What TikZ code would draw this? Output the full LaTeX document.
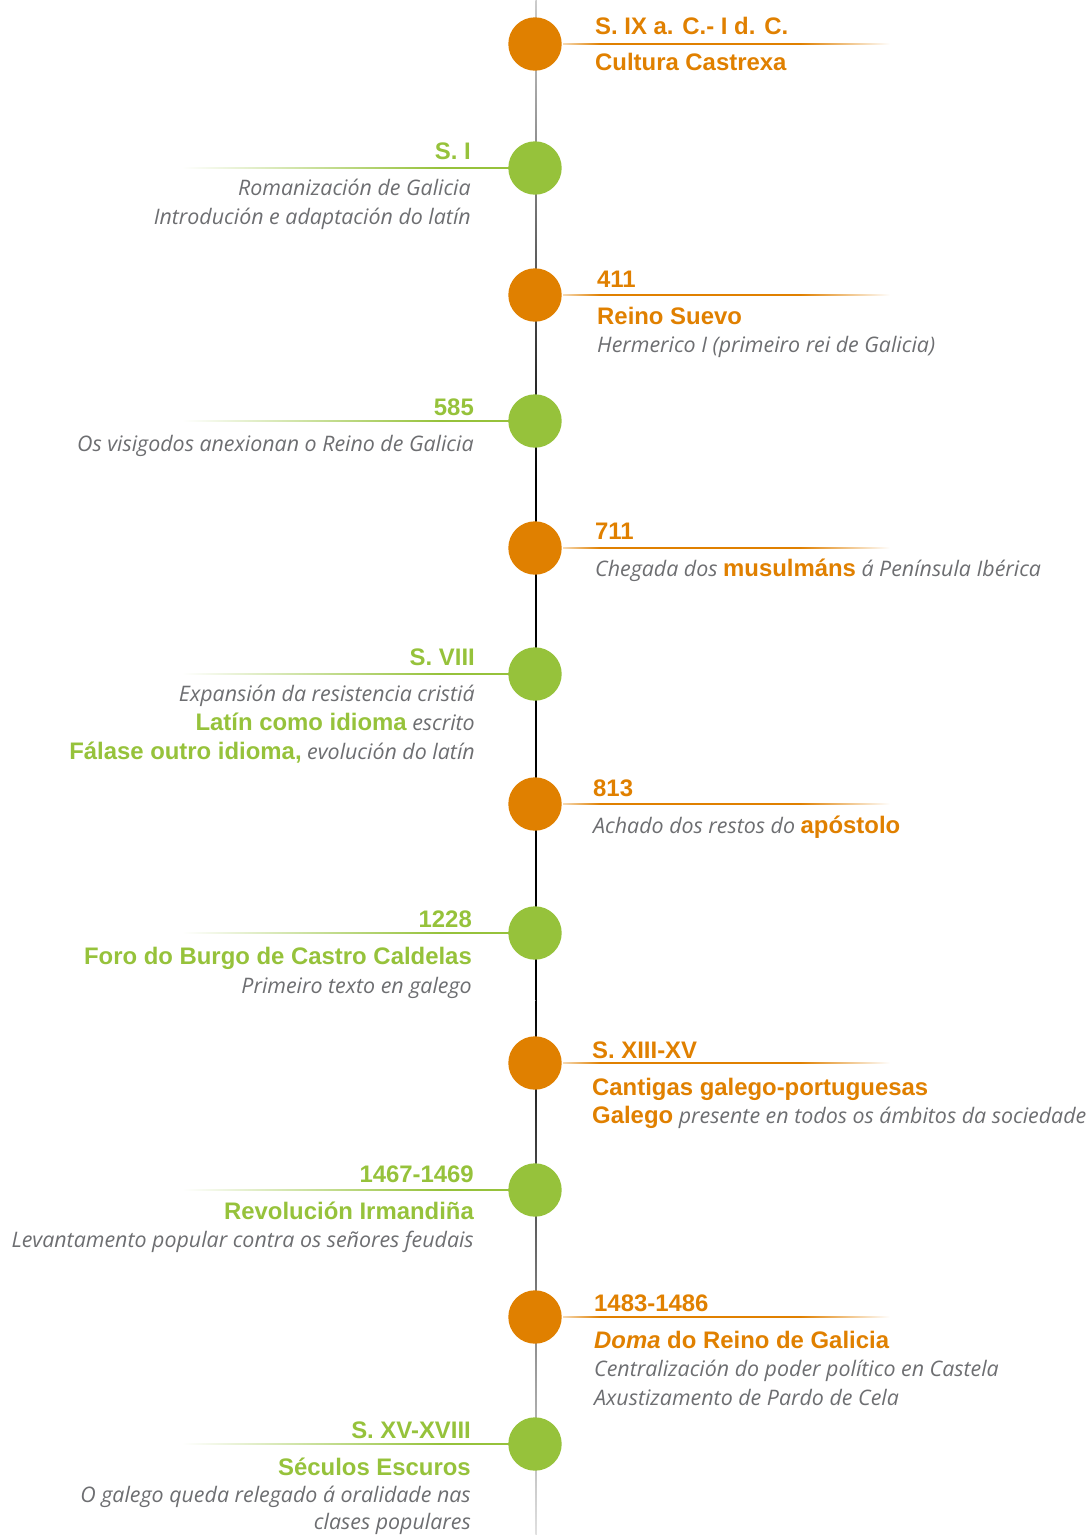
\documentclass[tikz,border=0pt]{standalone}
\usepackage{fontspec}
\setmainfont{Liberation Sans}
\newfontfamily\descfont{Open Sans}
\definecolor{tlor}{HTML}{E08000}
\definecolor{tlgr}{HTML}{96C23B}
\definecolor{tlgy}{HTML}{6D6E71}
\newcommand\hlo[1]{{\normalfont\bfseries\fontsize{23.9}{28}\selectfont\color{tlor}#1}}
\newcommand\hlg[1]{{\normalfont\bfseries\fontsize{23.9}{28}\selectfont\color{tlgr}#1}}
\begin{document}
\begin{tikzpicture}[x=1pt,y=-1pt,
  hd/.style={inner sep=0pt, font=\fontsize{23.9}{28}\selectfont\bfseries},
  hdo/.style={hd, text=tlor, anchor=base west},
  hdg/.style={hd, text=tlgr, anchor=base east},
  ds/.style={inner sep=0pt, font=\descfont\fontsize{21.4}{26}\selectfont\itshape, text=tlgy},
  dso/.style={ds, anchor=base west},
  dsg/.style={ds, anchor=base east},
  dot/.style={circle, minimum size=53.4pt, inner sep=0pt},
  odot/.style={dot, fill=tlor},
  gdot/.style={dot, fill=tlgr}]
\useasboundingbox (0,0) rectangle (1089,1535);
% vertical time axis
\shade[top color=black!20, bottom color=black] (535.3,0) rectangle (536.9,480);
\fill[black] (535.3,480) rectangle (536.9,1000);
\shade[top color=black, bottom color=black!12] (535.3,1000) rectangle (536.9,1535);
% horizontal rules
\foreach \y in {44,295,548,804,1063,1317}{
  \shade[left color=tlor!30, right color=tlor] (563,\y-0.8) rectangle (600,\y+0.8);
  \fill[tlor] (600,\y-0.8) rectangle (800,\y+0.8);
  \shade[left color=tlor, right color=white] (800,\y-0.8) rectangle (890,\y+0.8);
}
\foreach \y in {168,421,674,933,1190,1444}{
  \shade[left color=white, right color=tlgr] (182,\y-0.8) rectangle (440,\y+0.8);
  \fill[tlgr] (440,\y-0.8) rectangle (509,\y+0.8);
}
% circles
\node[odot] (c1) at (535,44) {};
\node[gdot] (c2) at (535,168) {};
\node[odot] (c3) at (535,295) {};
\node[gdot] (c4) at (535,421) {};
\node[odot] (c5) at (535,548) {};
\node[gdot] (c6) at (535,674) {};
\node[odot] (c7) at (535,804) {};
\node[gdot] (c8) at (535,933) {};
\node[odot] (c9) at (535,1063) {};
\node[gdot] (c10) at (535,1190) {};
\node[odot] (c11) at (535,1317) {};
\node[gdot] (c12) at (535,1444) {};
% 1
\node[hdo] (t1a) at (595,34) {S. IX a. C.- I d. C.};
\node[hdo] (t1b) at (595,70) {Cultura Castrexa};
% 2
\node[hdg] (t2a) at (471,159) {S. I};
\node[dsg] (t2b) at (471,195) {Romanización de Galicia};
\node[dsg] (t2c) at (471,224) {Introdución e adaptación do latín};
% 3
\node[hdo] (t3a) at (597,287) {411};
\node[hdo] (t3b) at (597,324) {Reino Suevo};
\node[dso] (t3c) at (597,352) {Hermerico I (primeiro rei de Galicia)};
% 4
\node[hdg] (t4a) at (474,415) {585};
\node[dsg] (t4b) at (474,451) {Os visigodos anexionan o Reino de Galicia};
% 5
\node[hdo] (t5a) at (595,539) {711};
\node[dso] (t5b) at (595,576) {Chegada dos \hlo{musulmáns} á Península Ibérica};
% 6
\node[hdg] (t6a) at (475,665) {S. VIII};
\node[dsg] (t6b) at (475,701) {Expansión da resistencia cristiá};
\node[dsg] (t6c) at (475,730) {\hlg{Latín como idioma} escrito};
\node[dsg] (t6d) at (475,759) {\hlg{Fálase outro idioma,} evolución do latín};
% 7
\node[hdo] (t7a) at (593,796) {813};
\node[dso] (t7b) at (593,833) {Achado dos restos do \hlo{apóstolo}};
% 8
\node[hdg] (t8a) at (472,927) {1228};
\node[hdg] (t8b) at (472,964) {Foro do Burgo de Castro Caldelas};
\node[dsg] (t8c) at (472,993) {Primeiro texto en galego};
% 9
\node[hdo] (t9a) at (592,1058) {S. XIII-XV};
\node[hdo] (t9b) at (592,1095) {Cantigas galego-portuguesas};
\node[dso] (t9c) at (592,1123) {\hlo{Galego} presente en todos os ámbitos da sociedade};
% 10
\node[hdg] (t10a) at (474,1182) {1467-1469};
\node[hdg] (t10b) at (474,1219) {Revolución Irmandiña};
\node[dsg] (t10c) at (474,1247) {Levantamento popular contra os señores feudais};
% 11
\node[hdo] (t11a) at (594,1311) {1483-1486};
\node[hdo] (t11b) at (594,1348) {{\itshape Doma} do Reino de Galicia};
\node[dso] (t11c) at (594,1376) {Centralización do poder político en Castela};
\node[dso] (t11d) at (594,1405) {Axustizamento de Pardo de Cela};
% 12
\node[hdg] (t12a) at (471,1438) {S. XV-XVIII};
\node[hdg] (t12b) at (471,1475) {Séculos Escuros};
\node[dsg] (t12c) at (471,1502) {O galego queda relegado á oralidade nas};
\node[dsg] (t12d) at (471,1529) {clases populares};
\end{tikzpicture}
\end{document}
